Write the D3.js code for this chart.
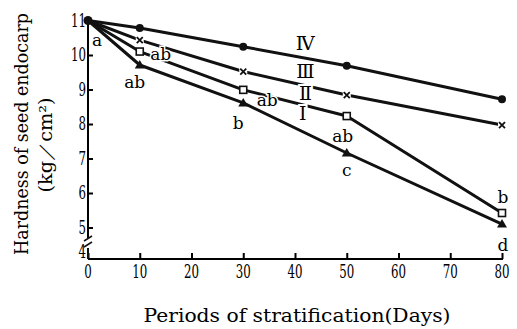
<!DOCTYPE html>
<html>
<head>
<meta charset="utf-8">
<script src="https://cdn.jsdelivr.net/npm/d3@7"></script>
<style>
  body { margin: 0; background: #fff; }
</style>
</head>
<body>
<div id="chart"><svg width="517" height="329"></svg></div>
<script>
// days of stratification
const days = [0, 10, 30, 50, 80];
// hardness values (kg/cm2) per treatment
const seriesIV = [11.0, 10.78, 10.24, 9.69, 8.72];
const seriesIII = [11.0, 10.43, 9.52, 8.84, 7.97];
const seriesII = [11.0, 10.10, 8.99, 8.23, 5.42];
const seriesI = [11.0, 9.71, 8.61, 7.16, 5.10];
const xTicks = [0, 10, 20, 30, 40, 50, 60, 70, 80];
const yTicks = [4, 5, 6, 7, 8, 9, 10, 11];
const seriesNames = ["Ⅳ", "Ⅲ", "Ⅱ", "Ⅰ"];
// significance letters: [day, value, text]
const letters = [
  [0, 11.0, "a"], [10, 9.71, "ab"], [10, 10.10, "ab"], [30, 8.61, "b"],
  [30, 8.99, "ab"], [50, 8.23, "ab"], [50, 7.16, "c"], [80, 5.42, "b"], [80, 5.10, "d"]
];

const serif = "DejaVu Serif";
const ink = "#111";
const svg = d3.select("#chart svg");

const x = d3.scaleLinear().domain([0, 80]).range([88, 502]);
// broken axis: 4 sits just under the break
const y = d3.scaleLinear().domain([4, 5, 11]).range([252, 227.5, 20.5]);
const axisY = 259;

// x axis with inward ticks
const xAxis = svg.append("g")
  .attr("transform", "translate(0," + axisY + ")")
  .call(d3.axisTop(x).tickValues(xTicks).tickSize(6).tickFormat(""));
xAxis.select(".domain").attr("d", "M88,0H503").attr("stroke-width", 2);
xAxis.selectAll(".tick line").attr("stroke-width", 2);
svg.append("g").selectAll("text")
  .data(xTicks).join("text")
  .attr("x", d => x(d))
  .attr("y", axisY + 19)
  .attr("text-anchor", "middle")
  .attr("font-family", serif)
  .attr("font-size", 18)
  .attr("textLength", d => String(d).length * 7.5)
  .attr("lengthAdjust", "spacingAndGlyphs")
  .text(d => d);

// y axis with inward ticks
const yAxis = svg.append("g")
  .attr("transform", "translate(88,0)")
  .call(d3.axisRight(y).tickValues(yTicks.slice(1)).tickSize(5).tickFormat(""));
yAxis.select(".domain").attr("d", "M0,18V238").attr("stroke-width", 2);
yAxis.selectAll(".tick line").attr("stroke-width", 2);
// lower stub and break marks
svg.append("path").attr("d", "M88,248V259").attr("stroke", ink).attr("stroke-width", 2);
svg.append("path").attr("d", "M84,241L92,236M84,247L92,242")
  .attr("stroke", ink).attr("stroke-width", 1.5).attr("fill", "none");
svg.append("g").selectAll("text")
  .data(yTicks).join("text")
  .attr("x", 86)
  .attr("y", d => y(d) + 6)
  .attr("text-anchor", "end")
  .attr("font-family", serif)
  .attr("font-size", 18)
  .attr("textLength", d => String(d).length * 7.5)
  .attr("lengthAdjust", "spacingAndGlyphs")
  .text(d => d);

// axis titles
svg.append("text")
  .attr("transform", "translate(28,134) rotate(-90)")
  .attr("text-anchor", "middle")
  .attr("font-family", serif)
  .attr("font-size", 18)
  .attr("textLength", 242)
  .attr("lengthAdjust", "spacingAndGlyphs")
  .text("Hardness of seed endocarp");
svg.append("text")
  .attr("transform", "translate(52,145) rotate(-90)")
  .attr("text-anchor", "middle")
  .attr("font-family", serif)
  .attr("font-size", 18)
  .attr("textLength", 95)
  .attr("lengthAdjust", "spacingAndGlyphs")
  .text("(kg／cm²)");
svg.append("text")
  .attr("x", 297)
  .attr("y", 322)
  .attr("text-anchor", "middle")
  .attr("font-family", serif)
  .attr("font-size", 18)
  .attr("textLength", 307)
  .attr("lengthAdjust", "spacingAndGlyphs")
  .text("Periods of stratification(Days)");

const line = d3.line()
  .x((d, i) => x(days[i]))
  .y(d => y(d));

const allSeries = [seriesIV, seriesIII, seriesII, seriesI];
svg.append("g").selectAll("path")
  .data(allSeries).join("path")
  .attr("fill", "none")
  .attr("stroke", ink)
  .attr("stroke-width", 3)
  .attr("stroke-linejoin", "round")
  .attr("d", d => line(d));

// markers
const pts = s => s.map((v, i) => [days[i], v]).slice(1);
svg.append("g").selectAll("circle")
  .data(pts(seriesIV)).join("circle")
  .attr("cx", d => x(d[0])).attr("cy", d => y(d[1])).attr("r", 4).attr("fill", ink);
svg.append("circle").attr("cx", x(0)).attr("cy", y(11)).attr("r", 4.5).attr("fill", ink);
// white gap around the crosses
svg.append("g").selectAll("rect")
  .data(pts(seriesIII)).join("rect")
  .attr("x", d => x(d[0]) - 4).attr("y", d => y(d[1]) - 4)
  .attr("width", 8).attr("height", 8).attr("fill", "#fff");
svg.append("g").selectAll("path")
  .data(pts(seriesIII)).join("path")
  .attr("transform", d => "translate(" + x(d[0]) + "," + y(d[1]) + ")")
  .attr("d", "M-3,-3L3,3M3,-3L-3,3")
  .attr("stroke", ink).attr("stroke-width", 1.8);
svg.append("g").selectAll("rect")
  .data(pts(seriesII)).join("rect")
  .attr("x", d => x(d[0]) - 3.5).attr("y", d => y(d[1]) - 3.5)
  .attr("width", 7).attr("height", 7)
  .attr("fill", "#fff").attr("stroke", ink).attr("stroke-width", 1.6);
svg.append("g").selectAll("path")
  .data(pts(seriesI)).join("path")
  .attr("transform", d => "translate(" + x(d[0]) + "," + y(d[1]) + ")")
  .attr("d", "M0,-5L5,3.5H-5Z")
  .attr("fill", ink);

// series numerals sitting on the lines at day ~42
const numPos = [[42, 43], [42, 71], [42, 93], [41.5, 113]];
svg.append("g").selectAll("text")
  .data(seriesNames).join("text")
  .attr("x", (d, i) => x(numPos[i][0]))
  .attr("y", (d, i) => numPos[i][1] + 7)
  .attr("text-anchor", "middle")
  .attr("font-size", 19)
  .attr("font-family", serif)
  .attr("stroke", "#fff").attr("stroke-width", 4).attr("paint-order", "stroke")
  .text(d => d);

// letter offsets relative to the point (pixels)
const letterOff = [[9, 20], [-5, 18], [21, 3], [-5, 21], [24, 11], [-4, 21], [0, 18], [1, -15], [1, 22]];
svg.append("g").selectAll("text")
  .data(letters).join("text")
  .attr("x", (d, i) => x(d[0]) + letterOff[i][0])
  .attr("y", (d, i) => y(d[1]) + letterOff[i][1] + 5)
  .attr("text-anchor", "middle")
  .attr("font-family", serif)
  .attr("font-size", 17)
  .attr("stroke", "#fff").attr("stroke-width", 3).attr("paint-order", "stroke")
  .text(d => d[2]);
</script>
</body>
</html>
